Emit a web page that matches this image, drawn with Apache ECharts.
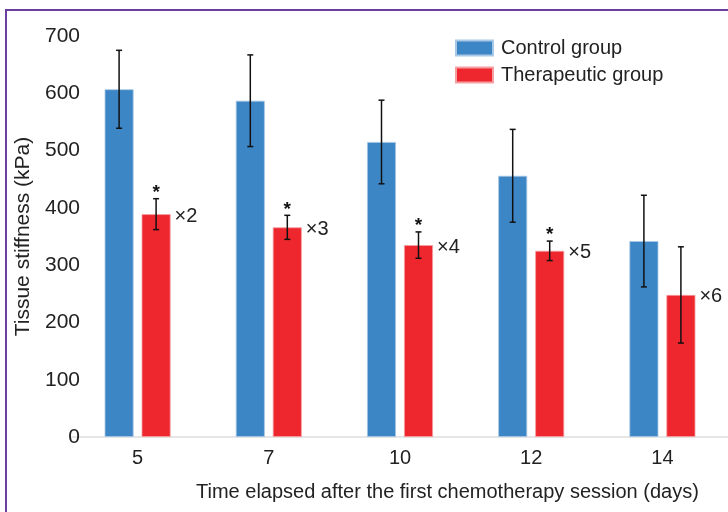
<!DOCTYPE html>
<html>
<head>
<meta charset="utf-8">
<style>html,body{margin:0;padding:0;background:#fff;}#c{width:728px;height:512px;}</style>
<script src="https://cdn.jsdelivr.net/npm/echarts@6/dist/echarts.min.js"></script>
</head>
<body>
<div id="c"></div>
<script>
const categories = ['5', '7', '10', '12', '14'];
const controlMean = [607, 587, 515, 456, 342];
const controlErr = [68, 80, 73, 81, 80];
const therapMean = [389, 366, 335, 325, 248];
const therapErr = [27, 21, 23, 17, 84];
const foldLabels = ['×2', '×3', '×4', '×5', '×6'];
const significant = [true, true, true, true, false];
const yTicks = [0, 100, 200, 300, 400, 500, 600, 700];

const FONT = 'Liberation Sans, Arial, sans-serif';
const FS = 20;
const BAR_W = 29, BAR_GAP = 8;
const half = (BAR_W + BAR_GAP) / 2;

function errSeries(name, means, errs, side, withStar) {
  return {
    type: 'custom', name: name + ' err', z: 5, silent: true,
    data: means.map((m, i) => [i, m, errs[i], withStar ? (significant[i] ? 1 : 0) : 0]),
    renderItem: function (params, api) {
      const i = api.value(0), m = api.value(1), e = api.value(2);
      const top = api.coord([i, m + e]);
      const bot = api.coord([i, m - e]);
      const x = top[0] + side * half;
      const cap = 3;
      const st = { stroke: '#111', lineWidth: 1.5 };
      const children = [
        { type: 'line', shape: { x1: x, y1: top[1], x2: x, y2: bot[1] }, style: st },
        { type: 'line', shape: { x1: x - cap, y1: top[1], x2: x + cap, y2: top[1] }, style: st },
        { type: 'line', shape: { x1: x - cap, y1: bot[1], x2: x + cap, y2: bot[1] }, style: st }
      ];
      if (api.value(3) === 1) {
        children.push({ type: 'text', style: { text: '*', x: x, y: top[1] - 6, align: 'center', verticalAlign: 'middle', font: 'bold 19px ' + FONT, fill: '#111' } });
      }
      return { type: 'group', children: children };
    }
  };
}

const chart = echarts.init(document.getElementById('c'), null, { renderer: 'canvas' });
chart.setOption({
  animation: false,
  backgroundColor: '#fff',
  grid: { left: 72, top: 36, width: 660, height: 401, containLabel: false },
  legend: {
    orient: 'vertical', left: 450, top: 33, icon: 'rect',
    itemWidth: 37, itemHeight: 15, itemGap: 7,
    textStyle: { fontSize: FS, fontFamily: FONT, color: '#222', padding: [0, 0, 0, 3] },
    data: ['Control group', 'Therapeutic group']
  },
  xAxis: {
    type: 'category', data: categories,
    axisLine: { lineStyle: { color: '#e6e6e6', width: 2 } },
    axisTick: { show: false },
    axisLabel: { fontSize: FS, fontFamily: FONT, color: '#222', margin: 11 }
  },
  yAxis: {
    type: 'value', min: 0, max: 700, interval: 100,
    name: 'Tissue stiffness (kPa)', nameLocation: 'middle', nameGap: 31,
    nameTextStyle: { fontSize: 21, fontFamily: FONT, color: '#222' },
    axisLine: { show: false }, axisTick: { show: false }, splitLine: { show: false },
    axisLabel: { fontSize: 21, fontFamily: FONT, color: '#222', margin: -8,
      formatter: v => yTicks.indexOf(v) >= 0 ? String(v) : '' }
  },
  graphic: [
    { type: 'rect', shape: { x: 6, y: 10, width: 900, height: 700 }, style: { fill: 'none', stroke: '#6a3fa0', lineWidth: 2 }, z: 100 },
    { type: 'text', left: 196, top: 482, style: { text: 'Time elapsed after the first chemotherapy session (days)', font: FS + 'px ' + FONT, fill: '#222' } }
  ],
  series: [
    {
      type: 'bar', name: 'Control group', data: controlMean, barWidth: BAR_W, barGap: (BAR_GAP / BAR_W * 100) + '%',
      itemStyle: { color: '#3d86c6', borderColor: '#a9c8e6', borderWidth: 0.8 }
    },
    {
      type: 'bar', name: 'Therapeutic group', data: therapMean, barWidth: BAR_W,
      itemStyle: { color: '#ee272e', borderColor: '#f4a0a2', borderWidth: 0.8 },
      label: { show: true, position: [BAR_W + 4, -8], formatter: p => foldLabels[p.dataIndex],
        fontSize: FS, fontFamily: FONT, color: '#222' }
    },
    errSeries('Control group', controlMean, controlErr, -1, false),
    errSeries('Therapeutic group', therapMean, therapErr, 1, true)
  ]
});
</script>
</body>
</html>
